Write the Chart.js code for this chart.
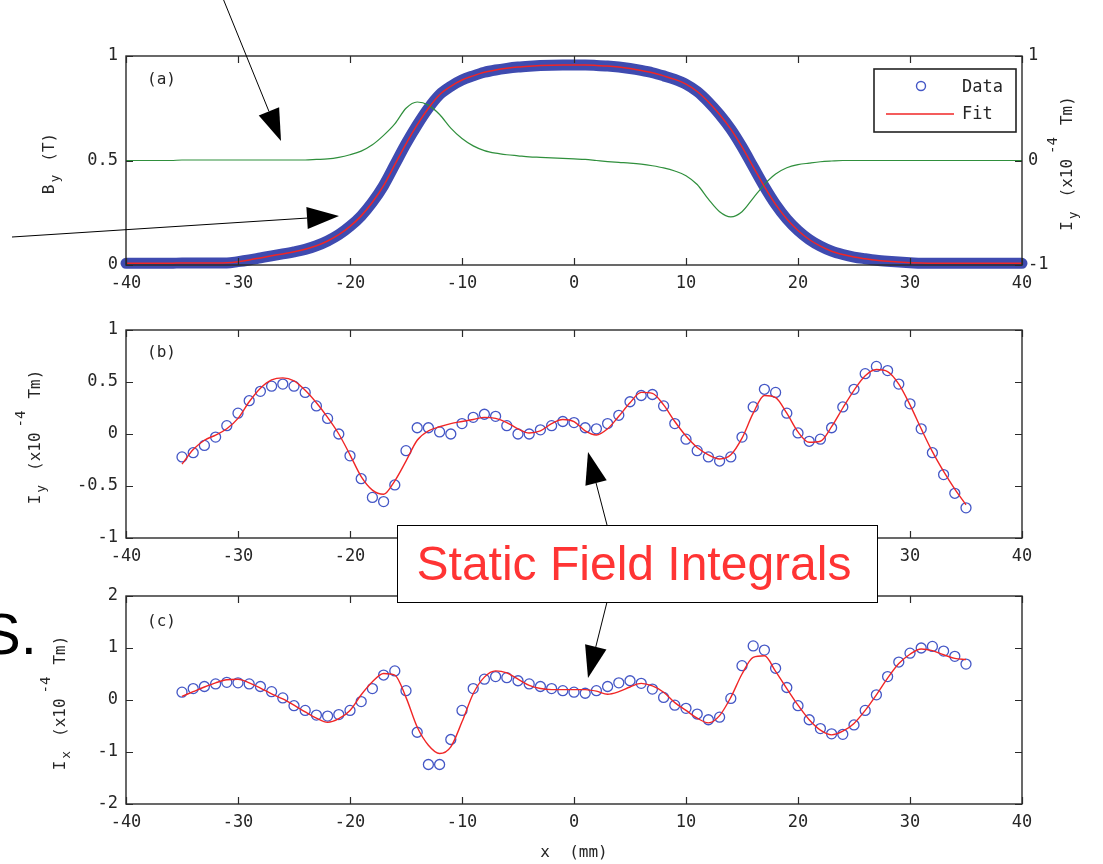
<!DOCTYPE html>
<html>
<head>
<meta charset="utf-8">
<script src="https://cdn.jsdelivr.net/npm/chart.js@4.4.1/dist/chart.umd.min.js"></script>
<style>
  html, body { margin: 0; padding: 0; background: #fff; }
  #page { position: relative; width: 1103px; height: 864px; overflow: hidden; background: #fff; }
  canvas { position: absolute; left: 0; }
  #overlay { pointer-events: none; }
</style>
</head>
<body>
<div id="page">
  <canvas id="chart-a" width="1103" height="264" style="top:36px"></canvas>
  <canvas id="chart-b" width="1103" height="260" style="top:310px"></canvas>
  <canvas id="chart-c" width="1103" height="288" style="top:576px"></canvas>
  <canvas id="overlay" width="1103" height="864" style="top:0"></canvas>
</div>
<script>
// ---- data ----

// panel (a): field scan, x in mm
const xa = [-40,-39,-38,-37,-36,-35,-34,-33,-32,-31,-30,-29,-28,-27,-26,-25,-24,-23,-22,-21,
  -20,-19,-18,-17,-16,-15,-14,-13,-12,-11,-10,-9,-8,-7,-6,-5,-4,-3,-2,-1,
  0,1,2,3,4,5,6,7,8,9,10,11,12,13,14,15,16,17,18,19,
  20,21,22,23,24,25,26,27,28,29,30,31,32,33,34,35,36,37,38,39,40];

// By (T), measured
const aData = [0.008,0.008,0.008,0.008,0.008,0.01,0.01,0.01,0.01,0.01,
  0.016,0.024,0.034,0.044,0.053,0.063,0.075,0.092,0.115,0.145,
  0.185,0.235,0.30,0.38,0.48,0.58,0.67,0.75,0.815,0.855,
  0.885,0.905,0.922,0.933,0.941,0.947,0.951,0.954,0.956,0.957,
  0.957,0.957,0.955,0.952,0.947,0.94,0.931,0.92,0.905,0.888,
  0.865,0.83,0.78,0.72,0.65,0.565,0.47,0.375,0.29,0.22,
  0.165,0.122,0.09,0.066,0.05,0.038,0.03,0.023,0.018,0.014,
  0.011,0.008,0.008,0.008,0.008,0.008,0.008,0.008,0.008,0.008,0.008];

// By fit (T)
const aFit = [0.008,0.008,0.008,0.008,0.008,0.01,0.01,0.01,0.01,0.011,
  0.016,0.024,0.034,0.044,0.053,0.063,0.075,0.092,0.115,0.145,
  0.185,0.235,0.30,0.38,0.48,0.58,0.67,0.75,0.815,0.855,
  0.885,0.905,0.922,0.933,0.941,0.947,0.951,0.954,0.956,0.957,
  0.957,0.957,0.955,0.952,0.947,0.94,0.931,0.92,0.905,0.888,
  0.865,0.83,0.78,0.72,0.65,0.565,0.47,0.375,0.29,0.22,
  0.165,0.122,0.09,0.066,0.05,0.038,0.03,0.023,0.018,0.014,
  0.011,0.009,0.008,0.008,0.008,0.008,0.008,0.008,0.008,0.008,0.008];

// Iy (x10^-4 Tm), right axis
const aIy = [0,0,0,0,0,0.005,0.005,0.005,0.005,0.005,
  0.005,0.005,0.005,0.005,0.005,0.005,0.005,0.01,0.015,0.03,
  0.055,0.09,0.15,0.24,0.35,0.5,0.56,0.53,0.44,0.31,
  0.21,0.14,0.095,0.07,0.055,0.045,0.035,0.03,0.025,0.02,
  0.015,0.01,0,-0.01,-0.018,-0.025,-0.035,-0.05,-0.07,-0.1,
  -0.145,-0.23,-0.37,-0.49,-0.54,-0.49,-0.36,-0.23,-0.13,-0.07,
  -0.04,-0.025,-0.012,-0.005,0,0,0,0,0,0,
  0,0,0,0,0,0,0,0,0,0,0];

// panels (b) and (c): integral scan positions, x in mm
const xbc = [-35,-34,-33,-32,-31,-30,-29,-28,-27,-26,-25,-24,-23,-22,-21,-20,-19,-18,-17,-16,
  -15,-14,-13,-12,-11,-10,-9,-8,-7,-6,-5,-4,-3,-2,-1,
  0,1,2,3,4,5,6,7,8,9,10,11,12,13,14,15,16,17,18,19,
  20,21,22,23,24,25,26,27,28,29,30,31,32,33,34,35];

// Iy (x10^-4 Tm)
const bData = [-0.22,-0.18,-0.11,-0.03,0.08,0.2,0.32,0.41,0.46,0.48,
  0.46,0.4,0.27,0.15,0.0,-0.21,-0.43,-0.61,-0.65,-0.49,
  -0.16,0.06,0.06,0.02,0.0,0.1,0.16,0.19,0.17,0.08,
  0.0,0.0,0.04,0.08,0.12,
  0.11,0.06,0.05,0.1,0.18,0.31,0.37,0.38,0.27,0.1,
  -0.05,-0.16,-0.22,-0.26,-0.22,-0.03,0.26,0.43,0.4,0.2,
  0.01,-0.07,-0.05,0.06,0.26,0.43,0.58,0.65,0.61,0.48,
  0.29,0.05,-0.18,-0.39,-0.57,-0.71];
const bFit = [-0.29,-0.15,-0.06,-0.01,0.05,0.15,0.31,0.44,0.52,0.54,
  0.51,0.42,0.3,0.16,0.0,-0.2,-0.41,-0.54,-0.58,-0.45,
  -0.26,-0.06,0.03,0.07,0.1,0.12,0.14,0.16,0.15,0.11,
  0.05,0.01,0.03,0.1,0.14,
  0.12,0.03,-0.01,0.05,0.17,0.3,0.4,0.39,0.28,0.12,
  -0.02,-0.13,-0.2,-0.24,-0.2,-0.04,0.2,0.37,0.35,0.2,
  0.02,-0.08,-0.07,0.07,0.25,0.42,0.56,0.62,0.6,0.48,
  0.28,0.05,-0.17,-0.36,-0.53,-0.68];

// Ix (x10^-4 Tm)
const cData = [0.15,0.22,0.26,0.31,0.34,0.33,0.31,0.26,0.16,0.04,
  -0.11,-0.2,-0.29,-0.31,-0.28,-0.2,-0.03,0.22,0.48,0.56,
  0.18,-0.62,-1.24,-1.24,-0.76,-0.2,0.22,0.4,0.45,0.43,
  0.37,0.31,0.26,0.22,0.18,
  0.15,0.13,0.18,0.26,0.33,0.37,0.32,0.21,0.05,-0.1,
  -0.16,-0.27,-0.38,-0.33,0.03,0.66,1.04,0.96,0.61,0.24,
  -0.11,-0.38,-0.55,-0.65,-0.66,-0.48,-0.2,0.1,0.45,0.73,
  0.9,1.0,1.03,0.94,0.84,0.69];
const cFit = [0.07,0.16,0.25,0.33,0.39,0.4,0.33,0.23,0.12,0.02,
  -0.1,-0.23,-0.35,-0.43,-0.36,-0.2,0.1,0.35,0.51,0.48,
  0.05,-0.52,-0.87,-1.03,-0.9,-0.42,0.12,0.44,0.56,0.52,
  0.4,0.28,0.22,0.2,0.2,
  0.2,0.2,0.17,0.11,0.16,0.25,0.32,0.27,0.15,-0.05,
  -0.2,-0.35,-0.44,-0.3,0.05,0.5,0.82,0.85,0.55,0.22,
  -0.1,-0.38,-0.58,-0.67,-0.6,-0.45,-0.2,0.1,0.42,0.7,
  0.88,0.98,0.95,0.87,0.8,0.78];

// tick values
const xTicks = [-40,-30,-20,-10,0,10,20,30,40];
const aTicks = [0,0.5,1];
const aRightTicks = [-1,0,1];
const bTicks = [-1,-0.5,0,0.5,1];
const cTicks = [-2,-1,0,1,2];

// ---- styling ----
const FONT = '"DejaVu Sans Mono", monospace';
const TEXT = '#262626';
const BLUE = '#4457c6';
const RED = '#f02626';

const toPts = (xs, ys) => xs.map((x, i) => ({ x: x, y: ys[i] }));

function xScale(pad, height) {
  return {
    type: 'linear', min: -40, max: 40,
    grid: { display: false, drawTicks: false }, border: { display: false },
    afterBuildTicks: s => { s.ticks = xTicks.map(v => ({ value: v })); },
    ticks: { padding: pad, color: TEXT, font: { family: FONT, size: 17 }, maxRotation: 0, autoSkip: false, callback: v => String(v) },
    afterFit: s => { s.height = height; }
  };
}

function yScale(vals, pos, width, pad) {
  return {
    type: 'linear', position: pos, min: vals[0], max: vals[vals.length - 1],
    grid: { display: false, drawTicks: false }, border: { display: false },
    afterBuildTicks: s => { s.ticks = vals.map(v => ({ value: v })); },
    ticks: { padding: pad, color: TEXT, font: { family: FONT, size: 17 }, autoSkip: false, callback: v => String(v) },
    afterFit: s => { s.width = width; }
  };
}

// text along a rotated axis title, reads bottom to top; dy > 0 is subscript
function drawRotated(ctx, x, yc, parts) {
  ctx.save();
  ctx.translate(x, yc);
  ctx.rotate(-Math.PI / 2);
  ctx.fillStyle = TEXT;
  ctx.textBaseline = 'alphabetic';
  ctx.textAlign = 'left';
  let total = 0;
  parts.forEach(p => {
    ctx.font = (p.size || 16) + 'px ' + FONT;
    p.w = ctx.measureText(p.t).width;
    total += p.w + (p.gap || 0);
  });
  let cx = -total / 2;
  parts.forEach(p => {
    ctx.font = (p.size || 16) + 'px ' + FONT;
    cx += p.gap || 0;
    ctx.fillText(p.t, cx, p.dy || 0);
    cx += p.w;
  });
  ctx.restore();
}

// box, inward ticks, panel letter, axis titles, legend
const framePlugin = {
  id: 'frame',
  afterDraw(chart, args, opts) {
    const ctx = chart.ctx;
    const a = chart.chartArea;
    const sx = chart.scales.x, sy = chart.scales.y, sy2 = chart.scales.y2;
    ctx.save();
    ctx.strokeStyle = '#2a2a2a';
    ctx.lineWidth = 1.4;
    ctx.strokeRect(a.left, a.top, a.right - a.left, a.bottom - a.top);
    ctx.lineWidth = 1.2;
    ctx.beginPath();
    sx.ticks.forEach(t => {
      const px = Math.round(sx.getPixelForValue(t.value)) + 0.5;
      ctx.moveTo(px, a.bottom); ctx.lineTo(px, a.bottom - 7);
      ctx.moveTo(px, a.top); ctx.lineTo(px, a.top + 7);
    });
    sy.ticks.forEach(t => {
      const py = Math.round(sy.getPixelForValue(t.value)) + 0.5;
      ctx.moveTo(a.left, py); ctx.lineTo(a.left + 7, py);
      if (!sy2) { ctx.moveTo(a.right, py); ctx.lineTo(a.right - 7, py); }
    });
    if (sy2) {
      sy2.ticks.forEach(t => {
        const py = Math.round(sy2.getPixelForValue(t.value)) + 0.5;
        ctx.moveTo(a.right, py); ctx.lineTo(a.right - 7, py);
      });
    }
    ctx.stroke();

    // panel letter
    ctx.fillStyle = TEXT;
    ctx.font = '16px ' + FONT;
    ctx.textBaseline = 'middle';
    ctx.textAlign = 'left';
    ctx.fillText(opts.letter, a.left + 21, a.top + opts.letterDy);

    const yc = (a.top + a.bottom) / 2 + 3;
    if (opts.left) drawRotated(ctx, a.left + opts.left.off, yc, opts.left.parts);
    if (opts.right) drawRotated(ctx, a.right + opts.right.off, yc, opts.right.parts);
    if (opts.bottom) {
      ctx.font = '16px ' + FONT;
      ctx.textAlign = 'center';
      ctx.textBaseline = 'middle';
      ctx.fillText(opts.bottom.text, (a.left + a.right) / 2, a.bottom + opts.bottom.off);
    }

    if (opts.legend) {
      const bx = a.right - 148, by = a.top + 13;
      ctx.fillStyle = '#fff';
      ctx.fillRect(bx, by, 142, 63);
      ctx.strokeStyle = '#222';
      ctx.lineWidth = 1.6;
      ctx.strokeRect(bx, by, 142, 63);
      const dataSet = chart.data.datasets.find(d => d.label === 'Data');
      const fitSet = chart.data.datasets.find(d => d.label === 'Fit');
      ctx.strokeStyle = BLUE;
      ctx.lineWidth = 1.4;
      ctx.beginPath();
      ctx.arc(bx + 47, by + 17, 4.5, 0, Math.PI * 2);
      ctx.stroke();
      ctx.strokeStyle = fitSet.borderColor;
      ctx.lineWidth = 1.5;
      ctx.beginPath();
      ctx.moveTo(bx + 12, by + 45); ctx.lineTo(bx + 80, by + 45);
      ctx.stroke();
      ctx.fillStyle = TEXT;
      ctx.font = '17px ' + FONT;
      ctx.textAlign = 'left';
      ctx.textBaseline = 'middle';
      ctx.fillText(dataSet.label, bx + 88, by + 19);
      ctx.fillText(fitSet.label, bx + 88, by + 46);
    }
    ctx.restore();
  }
};

const IyParts = [
  { t: 'I' }, { t: 'y', size: 13, dy: 5, gap: 2 }, { t: '(x10', gap: 14 },
  { t: '-4', size: 14, dy: -15, gap: 5 }, { t: 'Tm)', gap: 12 }
];
const IxParts = [
  { t: 'I' }, { t: 'x', size: 13, dy: 5, gap: 2 }, { t: '(x10', gap: 14 },
  { t: '-4', size: 14, dy: -15, gap: 5 }, { t: 'Tm)', gap: 12 }
];
const ByParts = [{ t: 'B' }, { t: 'y', size: 13, dy: 5, gap: 2 }, { t: '(T)', gap: 13 }];

const common = {
  responsive: false,
  animation: false,
  events: [],
  plugins: { legend: { display: false }, tooltip: { enabled: false } }
};

// panel (a)
new Chart(document.getElementById('chart-a'), {
  type: 'scatter',
  data: {
    datasets: [
      { label: 'Fit', data: toPts(xa, aFit), showLine: true, borderColor: RED, borderWidth: 1.5,
        pointRadius: 0, cubicInterpolationMode: 'monotone', yAxisID: 'y', order: 0, clip: 8 },
      { label: 'Iy', data: toPts(xa, aIy), showLine: true, borderColor: '#2f8f3c', borderWidth: 1.2,
        pointRadius: 0, cubicInterpolationMode: 'monotone', yAxisID: 'y2', order: 1 },
      { label: 'Data', data: toPts(xa, aData), showLine: true, borderColor: '#3f4bb0', borderWidth: 11,
        borderCapStyle: 'round', borderJoinStyle: 'round', pointRadius: 0,
        cubicInterpolationMode: 'monotone', yAxisID: 'y', order: 2, clip: 8 }
    ]
  },
  options: Object.assign({}, common, {
    layout: { padding: { left: 0, right: 0, top: 20, bottom: 0 }, autoPadding: false },
    scales: {
      x: xScale(8, 35),
      y: yScale(aTicks, 'left', 126, 8),
      y2: yScale(aRightTicks, 'right', 81, 6)
    },
    plugins: Object.assign({}, common.plugins, {
      frame: { letter: '(a)', letterDy: 24, legend: true,
        left: { off: -72, parts: ByParts }, right: { off: 50, parts: IyParts } }
    })
  }),
  plugins: [framePlugin]
});

// panel (b)
new Chart(document.getElementById('chart-b'), {
  type: 'scatter',
  data: {
    datasets: [
      { label: 'Fit', data: toPts(xbc, bFit), showLine: true, borderColor: RED, borderWidth: 1.4,
        pointRadius: 0, cubicInterpolationMode: 'monotone', order: 0 },
      { label: 'Data', data: toPts(xbc, bData), showLine: false, pointStyle: 'circle', pointRadius: 5,
        pointBorderWidth: 1.3, pointBorderColor: BLUE, pointBackgroundColor: 'rgba(0,0,0,0)', order: 1 }
    ]
  },
  options: Object.assign({}, common, {
    layout: { padding: { left: 0, right: 81, top: 20, bottom: 0 }, autoPadding: false },
    scales: { x: xScale(8, 32), y: yScale(bTicks, 'left', 126, 8) },
    plugins: Object.assign({}, common.plugins, {
      frame: { letter: '(b)', letterDy: 23, left: { off: -86, parts: IyParts } }
    })
  }),
  plugins: [framePlugin]
});

// panel (c)
new Chart(document.getElementById('chart-c'), {
  type: 'scatter',
  data: {
    datasets: [
      { label: 'Fit', data: toPts(xbc, cFit), showLine: true, borderColor: RED, borderWidth: 1.4,
        pointRadius: 0, cubicInterpolationMode: 'monotone', order: 0 },
      { label: 'Data', data: toPts(xbc, cData), showLine: false, pointStyle: 'circle', pointRadius: 5,
        pointBorderWidth: 1.3, pointBorderColor: BLUE, pointBackgroundColor: 'rgba(0,0,0,0)', order: 1 }
    ]
  },
  options: Object.assign({}, common, {
    layout: { padding: { left: 0, right: 81, top: 20, bottom: 0 }, autoPadding: false },
    scales: { x: xScale(8, 60), y: yScale(cTicks, 'left', 126, 8) },
    plugins: Object.assign({}, common.plugins, {
      frame: { letter: '(c)', letterDy: 26, left: { off: -61, parts: IxParts },
        bottom: { text: 'x  (mm)', off: 49 } }
    })
  }),
  plugins: [framePlugin]
});

// ---- slide annotations on top ----
function arrow(ctx, x0, y0, x1, y1) {
  const ang = Math.atan2(y1 - y0, x1 - x0);
  const len = 32, half = 11;
  const bx = x1 - len * Math.cos(ang), by = y1 - len * Math.sin(ang);
  ctx.beginPath();
  ctx.moveTo(x0, y0); ctx.lineTo(bx, by);
  ctx.stroke();
  ctx.beginPath();
  ctx.moveTo(x1, y1);
  ctx.lineTo(bx + half * Math.sin(ang), by - half * Math.cos(ang));
  ctx.lineTo(bx - half * Math.sin(ang), by + half * Math.cos(ang));
  ctx.closePath();
  ctx.fill();
}

const ov = document.getElementById('overlay').getContext('2d');
ov.fillStyle = '#000';
ov.strokeStyle = '#000';
ov.lineWidth = 1;
ov.font = '58px "Liberation Sans", Arial, sans-serif';
ov.textAlign = 'left';
ov.textBaseline = 'alphabetic';
ov.fillText('S.', -18, 654);

arrow(ov, 222, -4, 281, 141);
arrow(ov, 12, 237, 339, 216);

ov.fillStyle = '#fff';
ov.fillRect(397, 525, 480, 77);
ov.strokeRect(397.5, 525.5, 480, 77);
ov.fillStyle = '#ff3434';
ov.font = '48px "Liberation Sans", Arial, sans-serif';
ov.textAlign = 'center';
ov.fillText('Static Field Integrals', 634, 580);

ov.fillStyle = '#000';
arrow(ov, 607, 525, 588, 452);
arrow(ov, 607, 602, 588, 678);
</script>
</body>
</html>
